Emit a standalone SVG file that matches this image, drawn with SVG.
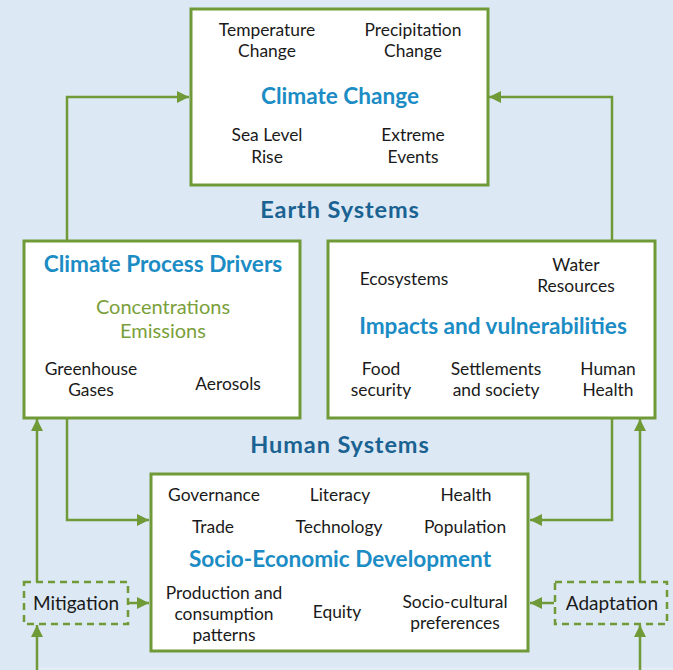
<svg xmlns="http://www.w3.org/2000/svg" width="673" height="670" viewBox="0 0 673 670">
<defs>
<style>
.bg{fill:#dce9f4}
.box{fill:#ffffff;stroke:#6f9a37;stroke-width:3}
.dbox{fill:none;stroke:#6f9a37;stroke-width:2.5;stroke-dasharray:7 5}
.ln{fill:none;stroke:#6f9a37;stroke-width:2.5}
.t{font-family:Lato,"Open Sans","Liberation Sans",sans-serif;font-size:17.4px;fill:#1a1a1a;text-anchor:middle}
.h{font-family:Lato,"Open Sans","Liberation Sans",sans-serif;font-size:22.6px;font-weight:bold;fill:#1b8cc4;text-anchor:middle}
.s{font-family:Lato,"Open Sans","Liberation Sans",sans-serif;font-size:23.5px;font-weight:bold;fill:#1a6292;text-anchor:middle;letter-spacing:0.9px}
.g{font-family:Lato,"Open Sans","Liberation Sans",sans-serif;font-size:20px;fill:#7a9f3a;text-anchor:middle}
.m{font-family:Lato,"Open Sans","Liberation Sans",sans-serif;font-size:19px;fill:#1a1a1a;text-anchor:middle}
</style>
<marker id="ah" viewBox="0 0 12 12" refX="12" refY="6" markerWidth="12" markerHeight="12" markerUnits="userSpaceOnUse" orient="auto">
<path d="M0,0 L12,6 L0,12 Z" fill="#6f9a37"/>
</marker>
</defs>
<rect class="bg" x="0" y="0" width="673" height="670"/>
<line x1="38" y1="668.5" x2="673" y2="668.5" stroke="#e9f0f7" stroke-width="1.5"/>

<g id="connectors">
<polyline class="ln" points="67,240 67,97 189,97" marker-end="url(#ah)"/>
<polyline class="ln" points="612,240 612,97 489,97" marker-end="url(#ah)"/>
<polyline class="ln" points="67,418 67,520 149,520" marker-end="url(#ah)"/>
<polyline class="ln" points="612,418 612,520 530,520" marker-end="url(#ah)"/>
<line class="ln" x1="37" y1="582" x2="37" y2="419" marker-end="url(#ah)"/>
<line class="ln" x1="640" y1="582" x2="640" y2="419" marker-end="url(#ah)"/>
<line class="ln" x1="37" y1="670" x2="37" y2="625" marker-end="url(#ah)"/>
<line class="ln" x1="640" y1="670" x2="640" y2="625" marker-end="url(#ah)"/>
<line class="ln" x1="129" y1="603" x2="149" y2="603" marker-end="url(#ah)"/>
<line class="ln" x1="554" y1="603" x2="530" y2="603" marker-end="url(#ah)"/>
</g>

<g id="climate-change">
<rect class="box" x="191" y="9" width="297" height="176"/>
<text class="t" x="267" y="36">Temperature</text>
<text class="t" x="267" y="57">Change</text>
<text class="t" x="413" y="36">Precipitation</text>
<text class="t" x="413" y="57">Change</text>
<text class="h" x="340" y="104">Climate Change</text>
<text class="t" x="267" y="141">Sea Level</text>
<text class="t" x="267" y="163">Rise</text>
<text class="t" x="413" y="141">Extreme</text>
<text class="t" x="413" y="163">Events</text>
</g>

<g id="earth-systems">
<text class="s" x="340" y="218">Earth Systems</text>
</g>

<g id="climate-process-drivers">
<rect class="box" x="24" y="241" width="276" height="177"/>
<text class="h" x="163" y="272">Climate Process Drivers</text>
<text class="g" x="163" y="314">Concentrations</text>
<text class="g" x="163" y="338">Emissions</text>
<text class="t" x="91" y="375">Greenhouse</text>
<text class="t" x="91" y="396">Gases</text>
<text class="t" x="228" y="390">Aerosols</text>
</g>

<g id="impacts">
<rect class="box" x="328" y="241" width="327" height="177"/>
<text class="t" x="404" y="285">Ecosystems</text>
<text class="t" x="576" y="271">Water</text>
<text class="t" x="576" y="292">Resources</text>
<text class="h" x="493" y="334">Impacts and vulnerabilities</text>
<text class="t" x="381" y="375">Food</text>
<text class="t" x="381" y="396">security</text>
<text class="t" x="496" y="375">Settlements</text>
<text class="t" x="496" y="396">and society</text>
<text class="t" x="608" y="375">Human</text>
<text class="t" x="608" y="396">Health</text>
</g>

<g id="human-systems">
<text class="s" x="340" y="453">Human Systems</text>
</g>

<g id="socio-economic">
<rect class="box" x="151" y="474" width="377" height="177"/>
<text class="t" x="214" y="501">Governance</text>
<text class="t" x="340" y="501">Literacy</text>
<text class="t" x="466" y="501">Health</text>
<text class="t" x="213" y="533">Trade</text>
<text class="t" x="339" y="533">Technology</text>
<text class="t" x="465" y="533">Population</text>
<text class="h" x="340" y="567">Socio-Economic Development</text>
<text class="t" x="224" y="599">Production and</text>
<text class="t" x="224" y="620">consumption</text>
<text class="t" x="224" y="641">patterns</text>
<text class="t" x="337" y="618">Equity</text>
<text class="t" x="455" y="608">Socio-cultural</text>
<text class="t" x="455" y="629">preferences</text>
</g>

<g id="mitigation">
<rect class="dbox" x="24" y="582" width="104" height="42"/>
<text class="m" x="76" y="610">Mitigation</text>
</g>

<g id="adaptation">
<rect class="dbox" x="555" y="582" width="112" height="42"/>
<text class="m" x="612" y="610">Adaptation</text>
</g>
</svg>
